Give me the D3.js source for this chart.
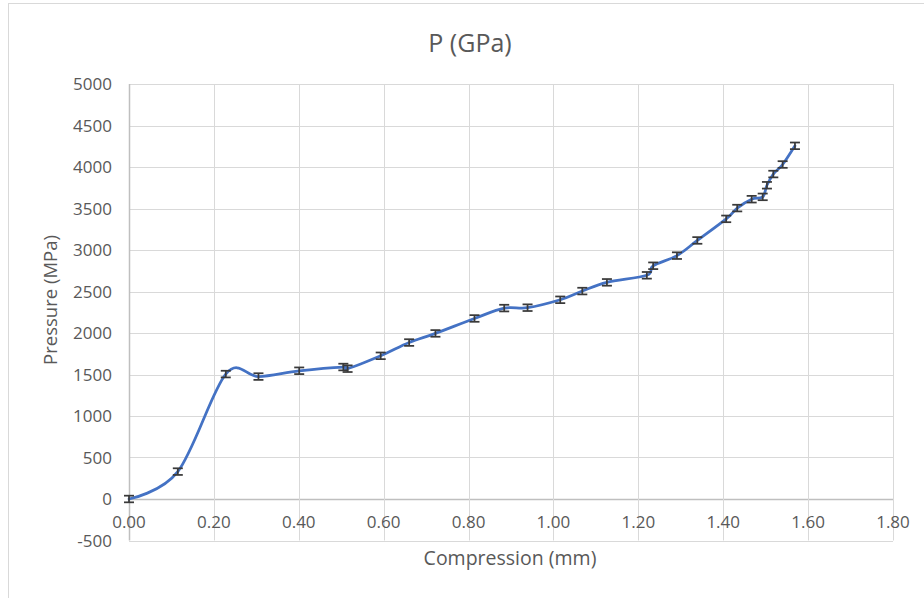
<!DOCTYPE html>
<html>
<head>
<meta charset="utf-8">
<script src="https://cdn.jsdelivr.net/npm/d3@7"></script>
<style>
  body { margin: 0; background: #fff; }
  text { font-family: "Open Sans", sans-serif; fill: #595959; }
</style>
</head>
<body>
<div id="chart"></div>
<script>
// compression (mm) and pressure (MPa)
var compression = [0.000, 0.115, 0.228, 0.305, 0.401, 0.505, 0.515, 0.593, 0.660, 0.722,
    0.814, 0.884, 0.939, 1.016, 1.068, 1.126, 1.220, 1.235, 1.291, 1.339,
    1.407, 1.433, 1.467, 1.493, 1.503, 1.518, 1.540, 1.569];
var pressure = [0, 330, 1505, 1475, 1545, 1590, 1570, 1725, 1885, 1995,
    2175, 2300, 2305, 2400, 2505, 2610, 2695, 2810, 2932, 3115,
    3375, 3505, 3612, 3640, 3780, 3915, 4030, 4255];
var errors = [40, 40, 40, 40, 40, 40, 40, 40, 40, 40,
    40, 40, 40, 40, 40, 40, 40, 40, 40, 40,
    40, 40, 40, 40, 40, 40, 40, 40];
var xTicks = [0, 0.2, 0.4, 0.6, 0.8, 1.0, 1.2, 1.4, 1.6, 1.8];
var yTicks = [-500, 0, 500, 1000, 1500, 2000, 2500, 3000, 3500, 4000, 4500, 5000];

var W = 924, H = 598;
var m = {t: 84, b: 57.5, l: 129, r: 31};

var svg = d3.select('#chart').append('svg')
    .attr('width', W)
    .attr('height', H);

// chart frame
svg.append('rect')
    .attr('x', 8.5).attr('y', 3.5)
    .attr('width', W).attr('height', H)
    .attr('fill', 'none')
    .attr('stroke', '#d9d9d9');

var x = d3.scaleLinear().domain([0, 1.8]).range([m.l, W - m.r]);
var y = d3.scaleLinear().domain([-500, 5000]).range([H - m.b, m.t]);

// horizontal gridlines
svg.append('g').selectAll('line').data(yTicks).enter()
    .append('line')
    .attr('x1', x(0)).attr('x2', x(1.8))
    .attr('y1', function(d) { return Math.round(y(d)) + 0.5; })
    .attr('y2', function(d) { return Math.round(y(d)) + 0.5; })
    .attr('stroke', function(d) { return d === 0 ? '#bfbfbf' : '#d9d9d9'; })
    .attr('stroke-width', function(d) { return d === 0 ? 1.5 : 1; });

// vertical gridlines
svg.append('g').selectAll('line').data(xTicks).enter()
    .append('line')
    .attr('x1', function(d) { return Math.round(x(d)) + 0.5; })
    .attr('x2', function(d) { return Math.round(x(d)) + 0.5; })
    .attr('y1', y(5000)).attr('y2', y(-500))
    .attr('stroke', function(d) { return d === 0 ? '#bfbfbf' : '#d9d9d9'; })
    .attr('stroke-width', function(d) { return d === 0 ? 1.5 : 1; });

// y tick labels
svg.append('g').selectAll('text').data(yTicks).enter()
    .append('text')
    .attr('x', x(0) - 17)
    .attr('y', function(d) { return y(d) + 6; })
    .attr('text-anchor', 'end')
    .style('font-size', '17px')
    .text(function(d) { return d; });

// x tick labels, just under the zero line
svg.append('g').selectAll('text').data(xTicks).enter()
    .append('text')
    .attr('x', function(d) { return x(d); })
    .attr('y', y(0) + 29)
    .attr('text-anchor', 'middle')
    .style('font-size', '17px')
    .text(function(d) { return d3.format('.2f')(d); });

// smoothed data line
var pts = compression.map(function(c, i) { return [c, pressure[i]]; });
var line = d3.line()
    .x(function(d) { return x(d[0]); })
    .y(function(d) { return y(d[1]); })
    .curve(d3.curveCardinal.tension(0));

svg.append('path').datum(pts)
    .attr('d', line)
    .attr('fill', 'none')
    .attr('stroke', '#4472c4')
    .attr('stroke-width', 2.75)
    .attr('stroke-linecap', 'round');

// error bars
var eb = svg.append('g').attr('stroke', '#3a3a3a').attr('stroke-width', 1.75);
pts.forEach(function(p, i) {
    var cx = x(p[0]), top = y(p[1] + errors[i]), bot = y(p[1] - errors[i]);
    eb.append('line').attr('x1', cx).attr('x2', cx).attr('y1', top).attr('y2', bot);
    eb.append('line').attr('x1', cx - 5).attr('x2', cx + 5).attr('y1', top).attr('y2', top);
    eb.append('line').attr('x1', cx - 5).attr('x2', cx + 5).attr('y1', bot).attr('y2', bot);
});

// titles
svg.append('text')
    .attr('x', 470).attr('y', 52)
    .attr('text-anchor', 'middle')
    .style('font-size', '25px')
    .text('P (GPa)');

svg.append('text')
    .attr('x', 510).attr('y', 565)
    .attr('text-anchor', 'middle')
    .style('font-size', '19.5px')
    .text('Compression (mm)');

svg.append('text')
    .attr('transform', 'translate(57,' + 300 + ') rotate(-90)')
    .attr('text-anchor', 'middle')
    .style('font-size', '18.5px')
    .text('Pressure (MPa)');
</script>
</body>
</html>
